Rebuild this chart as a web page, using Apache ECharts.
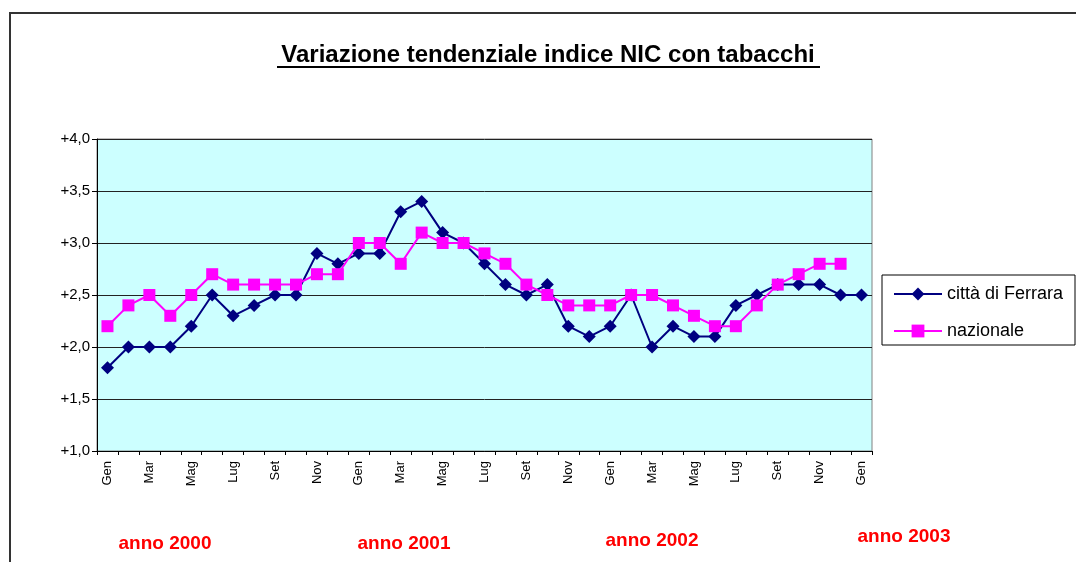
<!DOCTYPE html>
<html>
<head>
<meta charset="utf-8">
<script src="https://cdn.jsdelivr.net/npm/echarts@6/dist/echarts.min.js"></script>
<style>
html,body{margin:0;padding:0;background:#fff;}
#c{width:1076px;height:562px;}
</style>
</head>
<body>
<div id="c"></div>
<script>
var months = ['Gen','Feb','Mar','Apr','Mag','Giu','Lug','Ago','Set','Ott','Nov','Dic',
              'Gen','Feb','Mar','Apr','Mag','Giu','Lug','Ago','Set','Ott','Nov','Dic',
              'Gen','Feb','Mar','Apr','Mag','Giu','Lug','Ago','Set','Ott','Nov','Dic',
              'Gen'];
var ferrara = [1.8,2.0,2.0,2.0,2.2,2.5,2.3,2.4,2.5,2.5,2.9,2.8,
               2.9,2.9,3.3,3.4,3.1,3.0,2.8,2.6,2.5,2.6,2.2,2.1,
               2.2,2.5,2.0,2.2,2.1,2.1,2.4,2.5,2.6,2.6,2.6,2.5,
               2.5];
var nazionale = [2.2,2.4,2.5,2.3,2.5,2.7,2.6,2.6,2.6,2.6,2.7,2.7,
                 3.0,3.0,2.8,3.1,3.0,3.0,2.9,2.8,2.6,2.5,2.4,2.4,
                 2.4,2.5,2.5,2.4,2.3,2.2,2.2,2.4,2.6,2.7,2.8,2.8,
                 null];
var seriesNames = ['città di Ferrara','nazionale'];
var yearLabels = ['anno 2000','anno 2001','anno 2002','anno 2003'];
var titleText = 'Variazione tendenziale indice NIC con tabacchi';

var chart = echarts.init(document.getElementById('c'));
var FONT = 'Arial, "Liberation Sans", sans-serif';

var yearPos = [[165,544],[404,544],[652,541],[904,537]];
var graphics = [
  {type:'polyline', shape:{points:[[10,562],[10,13],[1076,13]]}, style:{stroke:'#333',lineWidth:2,fill:null}, silent:true},
  {type:'text', x:548, y:55, style:{text:titleText, font:'bold 24px '+FONT, fill:'#000', align:'center', verticalAlign:'middle'}},
  {type:'line', shape:{x1:277,y1:67,x2:820,y2:67}, style:{stroke:'#000',lineWidth:2}},
  {type:'rect', shape:{x:882,y:275,width:193,height:70}, style:{fill:'#fff',stroke:'#000',lineWidth:1}}
];
yearLabels.forEach(function(t,i){
  graphics.push({type:'text', x:yearPos[i][0], y:yearPos[i][1],
    style:{text:t, font:'bold 19px '+FONT, fill:'#FF0000', align:'center', verticalAlign:'middle'}});
});

chart.setOption({
  animation:false,
  backgroundColor:'#fff',
  textStyle:{fontFamily:FONT},
  graphic:graphics,
  grid:{left:97, top:139, width:775, height:312, show:true, backgroundColor:'#CCFFFF', borderColor:'#808080', borderWidth:1},
  legend:{
    data:seriesNames, orient:'vertical', left:893, top:285, padding:0,
    itemWidth:48, itemHeight:16, itemGap:19,
    textStyle:{fontSize:18, color:'#000', fontFamily:FONT}
  },
  xAxis:{
    type:'category', data:months, boundaryGap:true,
    axisLine:{lineStyle:{color:'#000',width:1}},
    axisTick:{show:true, interval:0, length:4, inside:false, lineStyle:{color:'#000'}},
    axisLabel:{interval:1, rotate:90, margin:10, fontSize:13, color:'#000', fontFamily:FONT},
    splitLine:{show:false}
  },
  yAxis:{
    type:'value', min:1, max:4, interval:0.5,
    axisLine:{show:true, lineStyle:{color:'#000',width:1}},
    axisTick:{show:true, length:5, lineStyle:{color:'#000'}},
    axisLabel:{fontSize:15, color:'#000', margin:7, fontFamily:FONT,
      formatter:function(v){return '+' + v.toFixed(1).replace('.',',');}},
    splitLine:{show:true, lineStyle:{color:'#222', width:1}}
  },
  series:[
    {name:seriesNames[0], type:'line', data:ferrara, symbol:'diamond', symbolSize:13,
      lineStyle:{color:'#000080', width:2}, itemStyle:{color:'#000080'}, z:2},
    {name:seriesNames[1], type:'line', data:nazionale, symbol:'rect', symbolSize:12,
      lineStyle:{color:'#FF00FF', width:2}, itemStyle:{color:'#FF00FF'}, z:3}
  ]
});
</script>
</body>
</html>
